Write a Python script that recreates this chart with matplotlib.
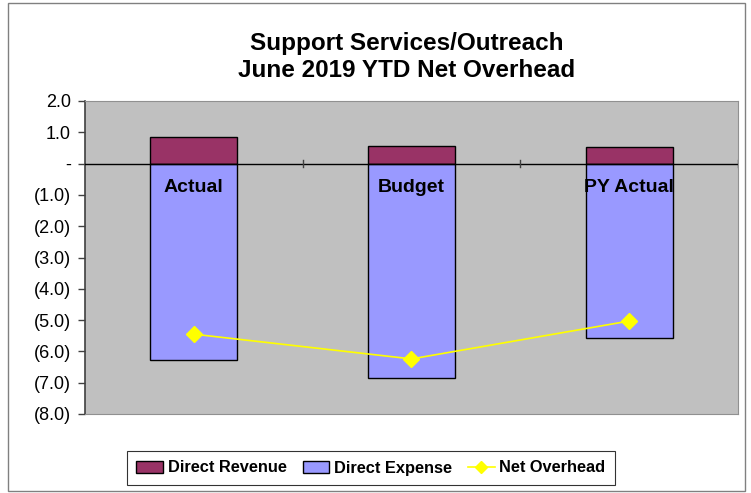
import matplotlib
matplotlib.use("Agg")
import matplotlib.pyplot as plt
from matplotlib.patches import Rectangle
from matplotlib.lines import Line2D
import numpy as np

plt.rcParams['font.family'] = ['Liberation Sans', 'DejaVu Sans']

categories = ["Actual", "Budget", "PY Actual"]
direct_revenue = [0.86, 0.57, 0.54]
direct_expense = [-6.29, -6.84, -5.56]
net_overhead = [-5.45, -6.24, -5.03]
yticks = [2, 1, 0, -1, -2, -3, -4, -5, -6, -7, -8]
ytick_labels = ["2.0", "1.0", "-", "(1.0)", "(2.0)", "(3.0)", "(4.0)", "(5.0)", "(6.0)", "(7.0)", "(8.0)"]
title = "Support Services/Outreach\nJune 2019 YTD Net Overhead"

W, H = 751, 493
fig = plt.figure(figsize=(W/100, H/100), dpi=100)
fig.patch.set_facecolor("white")
# outer border
fig.patches.append(Rectangle((8/W, 2/H), (745-8)/W, (490-2)/H, transform=fig.transFigure,
                             fill=False, edgecolor="#808080", linewidth=1.0))

x0, x1 = 85, 738
y0, y1 = 101, 414
ax = fig.add_axes([x0/W, 1-y1/H, (x1-x0)/W, (y1-y0)/H])
ax.set_facecolor("#C0C0C0")

x = np.arange(len(categories))
bw = 0.4
ax.bar(x, direct_revenue, bw, color="#993366", edgecolor="black", linewidth=1.0, zorder=2)
ax.bar(x, direct_expense, bw, color="#9999FF", edgecolor="black", linewidth=1.0, zorder=2)
ax.plot(x, net_overhead, color="#FFFF00", linewidth=1.2, marker="D", markersize=8,
        markerfacecolor="#FFFF00", markeredgecolor="#FFFF00", zorder=4)

ax.set_xlim(-0.5, len(categories)-0.5)
ax.set_ylim(-8, 2)
ax.set_yticks(yticks)
ax.set_yticklabels(ytick_labels, fontsize=13)
ax.tick_params(axis='y', direction='out', length=5, width=1, color="#404040", pad=5)
ax.set_xticks([])

# zero line with category boundary ticks
ax.axhline(0, color="black", linewidth=1.0, zorder=3)
for b in np.arange(0.5, len(categories)-0.4, 1.0):
    ax.plot([b, b], [-0.12, 0.12], color="#404040", linewidth=1.0, zorder=3)

for i, c in enumerate(categories):
    ax.text(i, -0.48, c, ha="center", va="top", fontsize=14, fontweight="bold", zorder=5)

for s in ["top", "right", "bottom"]:
    ax.spines[s].set_color("#909090")
ax.spines["left"].set_color("#404040")
ax.spines["left"].set_linewidth(1.2)

fig.text(407/W, 1-57/H, title, ha="center", va="center", fontsize=17.5, fontweight="bold",
         linespacing=1.2)

handles = [Rectangle((0, 0), 1, 1, facecolor="#993366", edgecolor="black", linewidth=1.0),
           Rectangle((0, 0), 1, 1, facecolor="#9999FF", edgecolor="black", linewidth=1.0),
           Line2D([0], [0], color="#FFFF00", marker="D", markersize=6, linewidth=1.2)]
leg = fig.legend(handles, ["Direct Revenue", "Direct Expense", "Net Overhead"],
                 loc="center", bbox_to_anchor=(371/W, 1-468/H), ncol=3,
                 fontsize=11.8, frameon=True, fancybox=False, edgecolor="black",
                 handlelength=1.6, handleheight=0.7, handletextpad=0.3, columnspacing=1.0,
                 borderpad=0.6)
for t in leg.get_texts():
    t.set_fontweight("bold")
leg.get_frame().set_linewidth(0.8)

fig.savefig("out.png", dpi=100)
